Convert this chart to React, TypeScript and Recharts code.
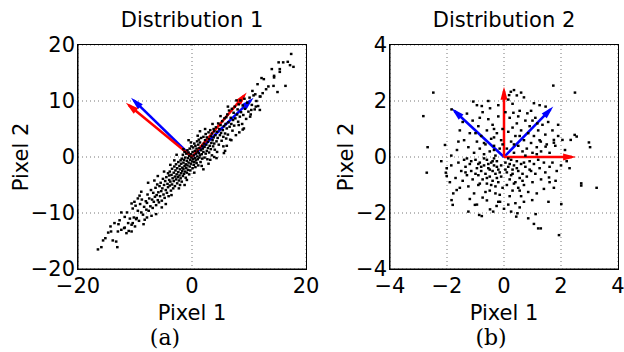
import React from "react";
import {
  ScatterChart,
  Scatter,
  XAxis,
  YAxis,
  CartesianGrid,
  ReferenceLine,
} from "recharts";

const FONT = "'DejaVu Sans', sans-serif";

// Distribution 1 (strongly correlated pixels)
const dist1Points: [number, number][] = [
  // lower-left tail
  [-16.5, -16.5], [-15.9, -16.1], [-15.6, -14.9], [-13.1, -16.1], [-15.2, -14.5], [-13.9, -14.9],
  [-13.3, -15.1], [-14.7, -13.5], [-14.2, -13.3], [-14.3, -12.4], [-13.0, -13.3], [-12.4, -13.0],
  [-11.5, -13.6], [-10.6, -13.3], [-13.6, -11.8], [-12.7, -11.3], [-11.8, -10.7], [-11.2, -11.8],
  [-12.4, -9.9], [-10.4, -11.8], [-9.8, -11.1], [-10.6, -8.3], [-10.1, -8.0], [-9.5, -7.4],
  [-8.9, -6.2], [-7.7, -4.6], [-6.3, -10.2], [-12.9, -12.0], [-11.9, -12.7],
  // core
  [-11.8, -12.6], [-11.4, -9.9], [-11.1, -13.2], [-10.9, -11.0], [-10.6, -12.1], [-10.4, -9.2],
  [-10.2, -10.8], [-10.0, -12.4], [-9.9, -8.7], [-9.7, -10.9], [-9.5, -9.6], [-9.3, -11.4],
  [-9.1, -8.4], [-8.9, -9.9], [-8.8, -7.6], [-8.6, -10.3], [-8.4, -8.9], [-8.3, -11.2],
  [-8.1, -7.9], [-8.0, -9.4], [-7.9, -8.2], [-7.8, -6.7], [-7.6, -9.6], [-7.5, -7.4],
  [-7.3, -8.8], [-7.2, -5.9], [-7.0, -7.6], [-6.9, -9.1], [-6.8, -6.4], [-6.7, -8.0],
  [-6.5, -7.1], [-6.4, -5.5], [-6.3, -8.6], [-6.2, -6.8], [-6.1, -4.9], [-6.0, -7.7],
  [-5.9, -6.3], [-5.8, -8.1], [-5.7, -5.2], [-5.6, -7.0], [-5.5, -4.6], [-5.4, -6.1],
  [-5.3, -7.8], [-5.2, -5.6], [-5.1, -3.9], [-5.0, -6.7], [-4.9, -5.0], [-4.8, -7.3],
  [-4.7, -4.3], [-4.6, -5.9], [-4.5, -3.6], [-4.4, -6.4], [-4.3, -4.8], [-4.2, -2.9],
  [-4.2, -5.4], [-4.1, -7.0], [-4.0, -4.1], [-4.0, -3.3], [-3.9, -5.1], [-3.9, -2.6],
  [-3.8, -4.4], [-3.7, -6.0], [-3.6, -3.2], [-3.5, -4.9], [-3.5, -2.1], [-3.4, -3.8],
  [-3.3, -5.6], [-3.2, -2.8], [-3.2, -4.3], [-3.1, -1.7], [-3.0, -3.5], [-3.0, -5.2],
  [-2.9, -2.4], [-2.8, -4.0], [-2.8, -1.3], [-2.7, -3.1], [-2.6, -4.7], [-2.6, -2.0],
  [-2.5, -3.6], [-2.4, -0.9], [-2.4, -2.7], [-2.3, -4.2], [-2.2, -1.6], [-2.2, -3.3],
  [-2.1, -5.0], [-2.1, -2.2], [-2.0, -0.6], [-2.0, -3.8], [-1.9, -1.2], [-1.9, -2.9],
  [-1.8, -0.3], [-1.8, -4.4], [-1.7, -1.9], [-1.7, -2.5], [-1.6, 0.4], [-1.6, -3.4],
  [-1.5, -1.0], [-1.5, -2.1], [-1.4, -0.5], [-1.4, -3.0], [-1.3, 0.9], [-1.3, -1.6],
  [-1.2, -2.6], [-1.2, -0.1], [-1.1, -3.7], [-1.1, -1.3], [-1.0, 0.6], [-1.0, -2.0],
  [-0.9, -0.7], [-0.9, -2.8], [-0.8, 1.2], [-0.8, -1.5], [-0.7, -0.2], [-0.7, -2.3],
  [-0.6, 0.8], [-0.6, -1.0], [-0.5, -3.1], [-0.5, 0.2], [-0.4, -1.7], [-0.4, 1.5],
  [-0.3, -0.5], [-0.3, -2.4], [-0.2, 0.5], [-0.2, -1.2], [-0.1, -0.1], [-0.1, 1.9],
  [0.0, -0.8], [0.1, -2.0], [0.1, 0.9], [0.2, -0.4], [0.2, 1.7], [0.3, -1.4],
  [0.3, 0.3], [0.4, 2.4], [0.4, -0.9], [0.5, 1.1], [0.5, -0.2], [0.6, -1.8],
  [0.6, 2.0], [0.7, 0.6], [0.7, -0.6], [0.8, 1.5], [0.8, -1.1], [0.9, 2.8],
  [0.9, 0.1], [1.0, 1.0], [1.0, -0.4], [1.1, 2.2], [1.1, -1.5], [1.2, 0.7],
  [1.2, 3.1], [1.3, -0.1], [1.3, 1.6], [1.4, 0.3], [1.4, 2.6], [1.5, -0.9],
  [1.6, 1.2], [1.6, 3.4], [1.7, 0.5], [1.8, 2.0], [1.8, -0.3], [1.9, 1.5],
  [2.0, 3.6], [2.0, 0.9], [2.1, 2.4], [2.2, -0.1], [2.2, 1.8], [2.3, 3.0],
  [2.4, 0.6], [2.4, 4.1], [2.5, 2.2], [2.6, 1.1], [2.6, 3.5], [2.7, -0.4],
  [2.8, 2.7], [2.8, 1.6], [2.9, 4.4], [3.0, 0.8], [3.0, 3.2], [3.1, 2.0],
  [3.2, 4.8], [3.3, 1.4], [3.3, 3.7], [3.4, 2.5], [3.5, 0.3], [3.5, 4.2],
  [3.6, 3.0], [3.7, 1.9], [3.8, 5.0], [3.8, 3.5], [3.9, 2.4], [3.9, 4.6],
  [3.2, -0.5], [4.3, -0.2], [4.0, 1.3], [4.1, 3.9], [4.2, 5.3], [4.3, 2.8],
  [4.4, 4.5], [4.5, 3.4], [4.6, 6.0], [4.7, 2.2], [4.8, 5.0], [4.9, 3.9],
  [5.0, 5.7], [5.1, 4.3], [5.2, 2.9], [5.3, 6.4], [5.4, 4.8], [5.5, 3.6],
  [5.6, 5.5], [5.7, 6.9], [5.8, 4.2], [5.8, 1.1], [5.9, 5.9], [6.0, 3.3],
  [6.0, 7.1], [5.6, 0.7], [6.1, 5.1], [6.2, 7.6], [6.3, 4.0], [6.4, 6.2],
  [6.5, 8.3], [6.6, 5.4], [6.7, 3.1], [6.8, 7.0], [6.9, 5.9], [7.0, 8.6],
  [7.1, 4.7], [7.2, 6.6], [7.3, 7.9], [7.4, 5.6], [7.5, 9.0], [7.6, 6.9],
  [7.7, 3.9], [7.9, 7.6], [8.0, 8.5], [8.1, 6.3], [8.2, 9.4], [8.4, 7.2],
  [8.5, 10.1], [8.6, 8.0], [8.8, 5.9], [8.9, 9.2], [9.0, 7.5], [9.2, 10.4],
  [9.3, 8.6], [9.5, 6.8], [9.7, 9.7], [9.9, 8.1], [10.1, 10.6], [10.3, 7.6],
  [10.5, 9.3], [10.8, 11.0], [11.0, 8.5], [11.3, 10.0], [11.6, 9.1], [11.9, 10.8],
  // wider scatter around the band
  [-9.2, -6.9], [-7.9, -10.8], [-6.6, -4.2], [-5.3, -9.0], [-4.9, -2.6], [-3.6, -6.8],
  [-3.1, -0.6], [-2.3, -5.6], [-1.5, 1.4], [-0.9, -4.1], [-0.2, 2.6], [0.4, -2.8],
  [1.0, 3.8], [1.7, -1.6], [2.3, 5.0], [2.9, -1.2], [3.6, 5.9], [4.4, 0.9],
  [5.0, 7.3], [5.5, 1.9], [6.3, 9.0], [6.9, 3.0], [7.8, 10.1], [8.3, 4.4],
  [-8.5, -12.0], [-7.1, -10.5], [-2.7, 0.4], [-4.6, -8.4], [1.4, 4.6], [2.0, -2.2],
  [-6.0, -3.4], [-0.6, 3.0], [3.9, 0.0], [-3.8, -1.4], [6.1, 2.0], [-1.3, -5.0],
  // upper-right tail
  [17.4, 18.4], [16.8, 17.0], [16.0, 16.9], [15.2, 16.9], [17.2, 16.4], [17.8, 16.1],
  [14.0, 15.7], [15.4, 15.7], [15.4, 15.2], [14.4, 14.5], [14.4, 14.2], [16.4, 12.7],
  [14.3, 12.7], [15.0, 11.6], [12.2, 14.1], [12.6, 13.9], [11.5, 13.0], [13.0, 12.1],
  [10.6, 11.8], [11.1, 11.2], [12.0, 10.8], [11.2, 9.0], [10.4, 8.4], [10.2, 7.2],
  [9.1, 5.1], [8.2, 5.7], [11.9, 8.4], [8.9, 4.9], [13.4, 12.6], [12.4, 11.4],
];
const dist1BlueVectors: [number, number][] = [[-10.7, 10.6], [10.8, 10.6]];
const dist1RedVectors: [number, number][] = [[-11.6, 9.7], [9.6, 11.5]];
const dist1XTicks = [-20, 0, 20];
const dist1YTicks = [-20, -10, 0, 10, 20];

// Distribution 2 (independent pixels)
const dist2Points: [number, number][] = [
  // outer points
  [-2.48, 2.3], [-2.83, 1.46], [-2.68, 0.35], [-1.84, 1.7], [-2.07, 0.43], [-2.71, -0.56],
  [-2.01, -0.4], [-2.04, -0.56], [-2.01, -0.68], [-1.78, -1.3], [-1.84, -1.54], [-1.8, -1.71],
  [-1.66, -1.18], [-1.25, -1.95], [-0.87, -2.07], [-0.78, -2.11], [-1.02, -1.71], [-0.49, -1.87],
  [-0.38, -1.95], [-0.26, -1.75], [-0.14, -1.6], [2.71, -0.94], [2.71, -1.02], [3.25, -1.1],
  [2.01, -1.68], [1.93, -2.79], [1.29, -2.55], [1.2, -2.55], [1.05, -2.39], [0.85, -2.19],
  [1.11, -2.04], [0.43, -2.13], [0.47, -2.01], [1.56, -1.6], [0.99, -1.54], [1.75, -1.1],
  [1.4, -1.14], [1.58, -0.73], [1.81, -0.85], [1.73, 2.55], [2.49, 2.3], [2.48, 0.79],
  [2.55, 0.73], [2.34, 0.61], [2.98, 0.52], [3.02, 0.35], [2.14, 0.25], [0.35, 2.39],
  [0.24, 2.33], [0.18, 2.21], [-0.78, 1.82], [-1.08, 1.98], [-0.49, 1.74], [0.7, 2.13],
  [1.05, 1.92], [0.33, 1.58], [0.82, 1.56], [1.46, 1.8], [1.17, 1.2], [1.75, 0.61],
  [1.75, 0.51], [1.29, 0.55], [1.46, 0.37], [2.05, 0.61],
  // upper left
  [-1.55, 0.95], [-1.4, 0.6], [-1.25, 0.35], [-1.2, 0.85], [-1.1, 1.3], [-1.05, 0.15],
  [-0.95, 0.55], [-0.9, 1.1], [-0.85, 0.3], [-0.8, 0.75], [-0.75, 1.6], [-0.7, 0.1],
  [-0.65, 0.45], [-0.6, 0.95], [-0.55, 1.35], [-0.5, 0.2], [-0.45, 0.65], [-0.4, 1.15],
  [-0.35, 0.4], [-0.3, 0.05], [-0.25, 0.85], [-0.2, 1.45], [-0.15, 0.3], [-0.1, 0.6],
  [-0.05, 1.0], [-1.65, 0.25], [-1.85, 0.05], [-1.3, 1.55], [-0.95, 1.85], [-0.55, 2.0],
  [-0.2, 1.85], [-1.45, 1.25], [-0.35, 0.7],
  // lower left
  [-1.6, -0.2], [-1.5, -0.5], [-1.45, -0.85], [-1.4, -0.1], [-1.35, -0.35], [-1.3, -0.65],
  [-1.25, -1.05], [-1.2, -0.25], [-1.15, -0.5], [-1.1, -0.8], [-1.05, -1.3], [-1.0, -0.1],
  [-0.95, -0.4], [-0.9, -0.65], [-0.9, -1.0], [-0.85, -0.2], [-0.8, -0.5], [-0.75, -0.8],
  [-0.75, -1.45], [-0.7, -0.3], [-0.65, -0.6], [-0.6, -0.1], [-0.6, -0.95], [-0.55, -0.4],
  [-0.5, -0.7], [-0.5, -1.2], [-0.45, -0.2], [-0.4, -0.5], [-0.4, -0.85], [-0.35, -0.3],
  [-0.3, -1.05], [-0.3, -0.6], [-0.25, -0.15], [-0.2, -0.45], [-0.2, -0.9], [-0.15, -1.35],
  [-0.1, -0.3], [-0.1, -0.7], [-0.05, -1.1], [-1.7, -0.75], [-1.55, -1.1], [-1.2, -1.5],
  [-0.95, -1.7], [-0.6, -1.55], [-0.3, -1.3], [-1.3, -0.05], [-0.7, -0.05], [-0.35, -0.05],
  [-1.0, -0.6], [-0.85, -0.95], [-0.55, -0.25], [-0.25, -0.75], [-1.85, -0.3], [-1.9, -0.9],
  // upper right
  [0.1, 0.3], [0.15, 0.9], [0.2, 1.4], [0.25, 0.55], [0.3, 1.9], [0.35, 0.15],
  [0.4, 0.75], [0.45, 1.2], [0.5, 0.4], [0.55, 1.65], [0.6, 0.95], [0.65, 0.2],
  [0.7, 0.6], [0.75, 1.3], [0.8, 0.3], [0.85, 0.85], [0.9, 1.1], [0.95, 0.5],
  [1.0, 0.15], [1.05, 0.75], [1.1, 1.4], [1.15, 0.35], [1.2, 0.95], [1.25, 0.6],
  [1.3, 0.2], [1.35, 1.15], [1.45, 0.8], [1.5, 0.45], [1.55, 1.25], [1.6, 0.15],
  [1.7, 0.95], [1.8, 0.4], [1.9, 0.75], [0.45, 2.2], [0.6, 2.3], [0.15, 2.05],
  [0.05, 1.6], [0.95, 1.65], [1.25, 1.85], [0.3, 1.05], [1.15, 0.1], [0.75, 0.05],
  // lower right
  [0.05, -0.2], [0.1, -0.55], [0.1, -1.0], [0.15, -0.35], [0.2, -0.8], [0.2, -1.4],
  [0.25, -0.1], [0.3, -0.6], [0.3, -1.2], [0.35, -0.3], [0.4, -0.9], [0.4, -1.65],
  [0.45, -0.15], [0.5, -0.5], [0.5, -1.1], [0.55, -0.75], [0.6, -0.25], [0.6, -1.4],
  [0.65, -0.6], [0.7, -1.0], [0.75, -0.35], [0.8, -0.7], [0.85, -1.25], [0.9, -0.15],
  [0.95, -0.5], [1.0, -0.9], [1.05, -0.25], [1.1, -0.6], [1.15, -1.3], [1.25, -0.4],
  [1.3, -0.8], [1.4, -0.2], [1.45, -0.55], [1.6, -0.35], [1.7, -0.2], [1.85, -0.5],
  [2.0, -0.3], [2.2, -0.15], [0.0, -1.85], [0.25, -1.95], [0.55, -1.8], [0.7, -1.6],
  [0.15, -0.05], [0.35, -0.95],
  // extra core points
  [-0.15, -0.55], [-0.45, -1.0], [-0.8, -0.35], [-1.15, -0.15], [-0.6, -0.75], [-0.25, -0.35],
  [0.2, -0.25], [0.45, -0.4], [0.7, -0.2], [-0.35, 0.25], [-0.7, 0.5], [-1.0, 0.85],
  [0.35, 0.45], [0.55, 0.75], [0.25, -0.65], [0.65, -0.85], [-0.9, -0.25], [-1.35, -0.55],
  [-0.5, -0.45], [0.05, -0.45], [-0.05, 0.45], [0.9, -0.45], [1.2, -0.1], [-0.2, -1.6],
  [0.15, -1.7], [0.55, -1.2], [-0.65, -1.25], [-1.6, 0.55], [1.0, 1.3], [0.5, 1.45],
  [-0.35, 1.0], [-0.85, 1.4], [1.6, -0.9], [2.3, -0.4], [1.9, 1.15], [-2.2, -0.15],
  [0.3, -0.45], [-0.4, -0.15],
];
const dist2BlueVectors: [number, number][] = [[-1.84, 1.74], [1.73, 1.8]];
const dist2RedVectors: [number, number][] = [[0, 2.51], [2.53, 0]];
const dist2Ticks = [-4, -2, 0, 2, 4];

const fmt = (v: number) => String(v).replace("-", "\u2212");

const dot = (props: any) => (
  <rect x={props.cx - 1.3} y={props.cy - 1.2} width={2.6} height={2.4} fill="#000" />
);

// quiver-style arrow drawn from the segment's pixel coordinates
const arrowShape = (color: string) => (props: any) => {
  const { x1, y1, x2, y2 } = props;
  const dx = x2 - x1;
  const dy = y2 - y1;
  const len = Math.hypot(dx, dy) || 1;
  const ux = dx / len;
  const uy = dy / len;
  const hl = 13;
  const hw = 3.5;
  const bx = x2 - ux * hl;
  const by = y2 - uy * hl;
  return (
    <g>
      <line x1={x1} y1={y1} x2={x2 - ux * 4} y2={y2 - uy * 4} stroke={color} strokeWidth={2.5} />
      <polygon
        points={`${x2},${y2} ${bx - uy * hw},${by + ux * hw} ${bx + uy * hw},${by - ux * hw}`}
        fill={color}
      />
    </g>
  );
};

// plot area inside each panel (set by the margins / axis sizes below)
const PLOT_LEFT = 78;
const PLOT_TOP = 45;
const PLOT_W = 228;
const PLOT_H = 224;

interface PanelProps {
  title: string;
  points: [number, number][];
  blue: [number, number][];
  red: [number, number][];
  domain: [number, number];
  xTicks: number[];
  yTicks: number[];
  yLabelOffset: number;
  width: number;
}

const textStyle = { fill: "#000", fontSize: 21, fontFamily: FONT };

const Panel: React.FC<PanelProps> = ({
  title,
  points,
  blue,
  red,
  domain,
  xTicks,
  yTicks,
  yLabelOffset,
  width,
}) => {
  const data = points.map(([x, y]) => ({ x, y }));
  return (
    <div style={{ position: "relative", width, height: 352 }}>
      <ScatterChart
        width={width}
        height={352}
        margin={{ top: PLOT_TOP - 1, right: width - PLOT_LEFT - PLOT_W, bottom: 0, left: 0 }}
      >
        <CartesianGrid xAxisId="b" yAxisId="l" stroke="#777" strokeDasharray="1 3" />
        <XAxis
          xAxisId="b"
          type="number"
          dataKey="x"
          domain={domain}
          ticks={xTicks}
          interval={0}
          allowDataOverflow
          height={352 - PLOT_TOP - PLOT_H}
          tickLine={false}
          tickSize={7}
          tickMargin={2}
          axisLine={{ stroke: "#000" }}
          tick={textStyle}
          tickFormatter={fmt}
          label={{ value: "Pixel 1", position: "insideBottom", offset: 32, ...textStyle }}
        />
        {/* carries the title above the plot box */}
        <XAxis
          xAxisId="t"
          orientation="top"
          type="number"
          domain={domain}
          ticks={xTicks}
          allowDataOverflow
          height={1}
          tick={false}
          tickLine={false}
          axisLine={false}
          label={{ value: title, position: "top", offset: 17, ...textStyle }}
        />
        <YAxis
          yAxisId="l"
          type="number"
          dataKey="y"
          domain={domain}
          ticks={yTicks}
          interval={0}
          allowDataOverflow
          width={PLOT_LEFT}
          tickLine={false}
          tickSize={1}
          tickMargin={2}
          axisLine={{ stroke: "#000" }}
          tick={textStyle}
          tickFormatter={fmt}
          label={{
            value: "Pixel 2",
            angle: -90,
            position: "insideLeft",
            offset: yLabelOffset,
            textAnchor: "middle",
            ...textStyle,
          }}
        />
        <Scatter
          xAxisId="b"
          yAxisId="l"
          data={data}
          shape={dot}
          isAnimationActive={false}
        />
        {blue.map(([x, y], i) => (
          <ReferenceLine
            key={`b${i}`}
            xAxisId="b"
            yAxisId="l"
            ifOverflow="visible"
            segment={[{ x: 0, y: 0 }, { x, y }]}
            shape={arrowShape("#0000ff")}
          />
        ))}
        {red.map(([x, y], i) => (
          <ReferenceLine
            key={`r${i}`}
            xAxisId="b"
            yAxisId="l"
            ifOverflow="visible"
            segment={[{ x: 0, y: 0 }, { x, y }]}
            shape={arrowShape("#ff0000")}
          />
        ))}
      </ScatterChart>
      {/* box frame around the plot area */}
      <div
        style={{
          position: "absolute",
          left: PLOT_LEFT - 1,
          top: PLOT_TOP - 1,
          width: PLOT_W + 2,
          height: PLOT_H + 2,
          border: "1px solid #000",
          boxSizing: "border-box",
          pointerEvents: "none",
        }}
      />
    </div>
  );
};

export default function App() {
  return (
    <div style={{ position: "absolute", left: 0, top: 0, width: 624, height: 352, background: "#fff" }}>
      <div style={{ position: "absolute", left: 0, top: 0 }}>
        <Panel
          title="Distribution 1"
          points={dist1Points}
          blue={dist1BlueVectors}
          red={dist1RedVectors}
          domain={[-20, 20]}
          xTicks={dist1XTicks}
          yTicks={dist1YTicks}
          yLabelOffset={21}
          width={330}
        />
      </div>
      <div style={{ position: "absolute", left: 312, top: 0 }}>
        <Panel
          title="Distribution 2"
          points={dist2Points}
          blue={dist2BlueVectors}
          red={dist2RedVectors}
          domain={[-4, 4]}
          xTicks={dist2Ticks}
          yTicks={dist2Ticks}
          yLabelOffset={34}
          width={312}
        />
      </div>
      <svg
        width={624}
        height={352}
        style={{ position: "absolute", left: 0, top: 0, pointerEvents: "none" }}
      >
        <text x={165} y={345} textAnchor="middle" fontFamily="'DejaVu Serif', serif" fontSize={22}>
          (a)
        </text>
        <text x={491} y={345} textAnchor="middle" fontFamily="'DejaVu Serif', serif" fontSize={22}>
          (b)
        </text>
      </svg>
    </div>
  );
}
